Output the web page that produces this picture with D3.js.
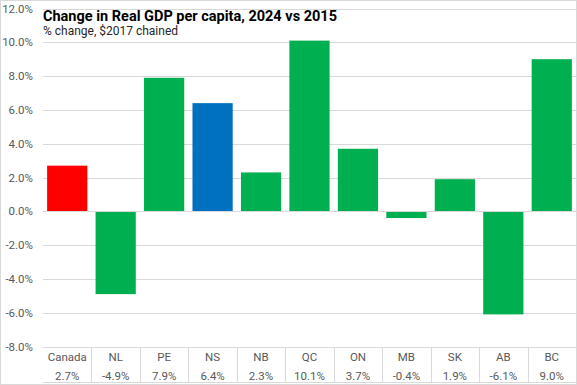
<!DOCTYPE html>
<html>
<head>
<meta charset="utf-8">
<script src="https://cdn.jsdelivr.net/npm/d3@7"></script>
<style>
  body { margin: 0; background: #fff; }
  svg { display: block; }
  text { font-family: "Roboto", "Liberation Sans", sans-serif; }
</style>
</head>
<body>
<svg id="chart" width="577" height="385"></svg>
<script>
// chart data
const regions = ['Canada', 'NL', 'PE', 'NS', 'NB', 'QC', 'ON', 'MB', 'SK', 'AB', 'BC'];
const changes = [2.7, -4.9, 7.9, 6.4, 2.3, 10.1, 3.7, -0.4, 1.9, -6.1, 9.0];
const yTicks = [-8, -6, -4, -2, 0, 2, 4, 6, 8, 10, 12];
const title = 'Change in Real GDP per capita, 2024 vs 2015';
const subtitle = '% change, $2017 chained';

const W = 577, H = 385;
const margin = { left: 43, right: 1, top: 8.5, bottom: 39 };

const svg = d3.select('#chart');

// outer frame
svg.append('rect')
  .attr('x', 0.5).attr('y', 0.5)
  .attr('width', W - 1).attr('height', H - 1)
  .attr('fill', '#fff').attr('stroke', '#d9d9d9');

const x = d3.scaleBand()
  .domain(regions)
  .range([margin.left, W - margin.right])
  .paddingInner(0.17)
  .paddingOuter(0.085);

const y = d3.scaleLinear()
  .domain([-8, 12])
  .range([H - margin.bottom + 0.5, margin.top]);

// grid lines
svg.append('g')
  .selectAll('line')
  .data(yTicks)
  .enter().append('line')
  .attr('x1', margin.left)
  .attr('x2', W - margin.right)
  .attr('y1', d => Math.round(y(d)) + 0.5)
  .attr('y2', d => Math.round(y(d)) + 0.5)
  .attr('stroke', '#d9d9d9');

// y axis labels
const yAxis = d3.axisLeft(y)
  .tickValues(yTicks)
  .tickSize(0)
  .tickPadding(10)
  .tickFormat(d => d.toFixed(1) + '%');

svg.append('g')
  .attr('transform', `translate(${margin.left},0)`)
  .call(yAxis)
  .call(g => g.select('.domain').remove())
  .call(g => g.selectAll('text')
    .attr('fill', '#595959')
    .attr('font-size', 11.5)
    .style('font-family', '"Roboto", sans-serif'));

// bars
function barColor(name) {
  if (name === 'Canada') return '#ff0000';
  if (name === 'NS') return '#0070c0';
  return '#00b050';
}

svg.append('g')
  .selectAll('rect')
  .data(regions)
  .enter().append('rect')
  .attr('x', d => x(d))
  .attr('width', x.bandwidth())
  .attr('y', (d, i) => y(Math.max(0, changes[i])))
  .attr('height', (d, i) => Math.abs(y(changes[i]) - y(0)))
  .attr('fill', d => barColor(d));

// zero line on top
svg.append('line')
  .attr('x1', margin.left).attr('x2', W - margin.right)
  .attr('y1', Math.round(y(0)) + 0.5).attr('y2', Math.round(y(0)) + 0.5)
  .attr('stroke', '#d9d9d9');

// data table below the plot
const tableTop = Math.round(y(-8)) + 0.5;
const tableBottom = H - 2.5;
const table = svg.append('g');

table.selectAll('line.sep')
  .data(regions.slice(1))
  .enter().append('line')
  .attr('class', 'sep')
  .attr('x1', d => Math.round(x(d) - x.step() * x.paddingInner() / 2) + 0.5)
  .attr('x2', d => Math.round(x(d) - x.step() * x.paddingInner() / 2) + 0.5)
  .attr('y1', tableTop)
  .attr('y2', tableBottom)
  .attr('stroke', '#d9d9d9');

table.append('line')
  .attr('x1', margin.left).attr('x2', W - margin.right)
  .attr('y1', tableBottom).attr('y2', tableBottom)
  .attr('stroke', '#d9d9d9');

table.selectAll('text.cat')
  .data(regions)
  .enter().append('text')
  .attr('class', 'cat')
  .attr('x', d => x(d) + x.bandwidth() / 2)
  .attr('y', tableTop + 13)
  .attr('text-anchor', 'middle')
  .attr('font-size', 11.5)
  .attr('fill', '#595959')
  .text(d => d);

table.selectAll('text.val')
  .data(changes)
  .enter().append('text')
  .attr('class', 'val')
  .attr('x', (d, i) => x(regions[i]) + x.bandwidth() / 2)
  .attr('y', tableTop + 32)
  .attr('text-anchor', 'middle')
  .attr('font-size', 11.5)
  .attr('fill', '#595959')
  .text(d => d.toFixed(1) + '%');

// titles
svg.append('text')
  .attr('x', 43)
  .attr('y', 21)
  .attr('font-size', 14.5)
  .attr('font-weight', 'bold')
  .attr('fill', '#000')
  .text(title);

svg.append('text')
  .attr('x', 43)
  .attr('y', 35)
  .attr('font-size', 12)
  .attr('fill', '#262626')
  .text(subtitle);
</script>
</body>
</html>
